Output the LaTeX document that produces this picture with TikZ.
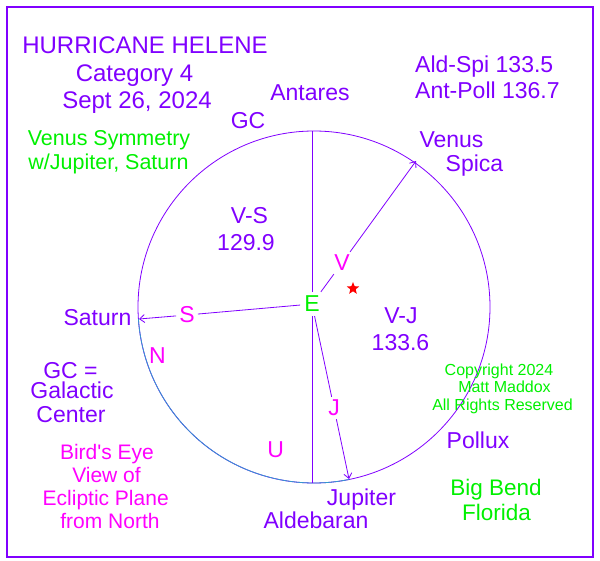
\documentclass[tikz,border=0pt]{standalone}
\usepackage{fontspec}
\setmainfont{Liberation Sans}[Ligatures=TeXOff]
\usetikzlibrary{shapes}
\usetikzlibrary{arrows.meta}
\definecolor{hpurple}{RGB}{128,0,255}
\definecolor{hgreen}{RGB}{0,240,0}
\definecolor{hmagenta}{RGB}{255,0,255}
\definecolor{hcyan}{RGB}{51,153,204}
\tikzset{
	textnode/.style = {
		anchor=base,
		inner sep=0pt,
		align=center
	},
	lbl_title/.style = {
		textnode,
		text=hpurple,
		font=\fontsize{24}{28}\selectfont
	},
	lbl_name/.style = {
		textnode,
		text=hpurple,
		font=\fontsize{23}{27}\selectfont
	},
	lbl_note/.style = {
		textnode,
		text=hgreen,
		font=\fontsize{21.5}{25}\selectfont
	},
	lbl_big/.style = {
		lbl_note,
		font=\fontsize{22.5}{26}\selectfont
	},
	lbl_view/.style = {
		textnode,
		text=hmagenta,
		font=\fontsize{21}{24}\selectfont
	},
	lbl_copy/.style = {
		textnode,
		text=hgreen,
		font=\fontsize{16}{18}\selectfont
	},
	lbl_line/.style = {
		anchor=center,
		text=hmagenta,
		fill=white,
		inner sep=3pt,
		font=\fontsize{23}{27}\selectfont
	},
	frame/.style = {
		draw=hpurple,
		line width=1.3pt
	},
	orbit/.style = {
		draw=hpurple,
		line width=0.8pt
	},
	orbit_n/.style = {
		orbit,
		draw=hcyan
	},
	ray/.style = {
		draw=hpurple,
		line width=0.8pt
	}
}
\begin{document}
\begin{tikzpicture}[x=1pt, y=-1pt, >={Straight Barb[length=5pt,width=8pt]}]
\useasboundingbox (0,0) rectangle (600,561);
\draw[frame] (7,7) rectangle (593,557);

% orbit and its points
\coordinate (ctr) at (314,307);
\coordinate (ant) at (312,131);
\coordinate (ald) at (312,483);
\coordinate (ven) at (416,161);
\coordinate (sat) at (139,319);
\coordinate (jup) at (349,479);
\draw[orbit] (ctr) circle[radius=176];
\draw[orbit_n] (ctr) ++(78.5:176) arc[start angle=78.5, end angle=176.1, radius=176];

% earth and the rays
\node[lbl_line, text=hgreen, inner sep=4pt] (E) at (312,304) {E};
\node[lbl_line] (lblV) at (342,263) {V};
\node[lbl_line] (lblS) at (187,315) {S};
\node[lbl_line] (lblJ) at (334,408) {J};
\draw[ray] (ant) -- (E) -- (ald);
\draw[ray, ->] (E) -- (lblV) -- (ven);
\draw[ray, ->] (E) -- (lblS) -- (sat);
\draw[ray, ->] (E) -- (lblJ) -- (jup);
\node[star, star points=5, star point ratio=2.3, fill=red, inner sep=0pt, minimum size=13pt] (sun) at (353,288.5) {};
\node[lbl_line, fill=none] (lblN) at (157.5,355.5) {N};
\node[lbl_line, fill=none] (lblU) at (275.7,450) {U};

% titles
\node[lbl_title] (title) at (145,54) {HURRICANE HELENE};
\node[lbl_title] (cat) at (134.5,82) {Category 4};
\node[lbl_title] (date) at (137,109) {Sept 26, 2024};
\node[lbl_note] (sym1) at (109,146) {Venus Symmetry};
\node[lbl_note] (sym2) at (108.5,170) {w/Jupiter, Saturn};
\node[lbl_name, anchor=base west] (aldspi) at (415,72.5) {Ald-Spi 133.5};
\node[lbl_name, anchor=base west] (antpoll) at (415,99) {Ant-Poll 136.7};

% star and planet names
\node[lbl_name] (gc) at (248,129) {GC};
\node[lbl_name] (antares) at (310,101) {Antares};
\node[lbl_name] (venus) at (451.5,148) {Venus};
\node[lbl_name] (spica) at (474.5,172) {Spica};
\node[lbl_name] (saturn) at (97.5,326) {Saturn};
\node[lbl_name] (pollux) at (478,448) {Pollux};
\node[lbl_name] (jupiter) at (361.5,505) {Jupiter};
\node[lbl_name] (aldebaran) at (316,528) {Aldebaran};

% angles
\node[lbl_name] (vs) at (249.5,224) {V-S};
\node[lbl_name] (vsval) at (246,251) {129.9};
\node[lbl_name] (vj) at (401,324) {V-J};
\node[lbl_name] (vjval) at (400.5,351) {133.6};

% notes
\node[lbl_name] (gc1) at (70.5,378) {GC =};
\node[lbl_name] (gc2) at (72,399) {Galactic};
\node[lbl_name] (gc3) at (71,422) {Center};
\node[lbl_copy] (copy1) at (499,376) {Copyright 2024};
\node[lbl_copy] (copy2) at (504.5,392) {Matt Maddox};
\node[lbl_copy] (copy3) at (502.5,410) {All Rights Reserved};
\node[lbl_view] (view1) at (107,459) {Bird's Eye};
\node[lbl_view] (view2) at (106.5,482) {View of};
\node[lbl_view] (view3) at (105.7,505) {Ecliptic Plane};
\node[lbl_view] (view4) at (110,528) {from North};
\node[lbl_big] (place1) at (496,495) {Big Bend};
\node[lbl_big] (place2) at (496.5,520) {Florida};
\end{tikzpicture}
\end{document}
